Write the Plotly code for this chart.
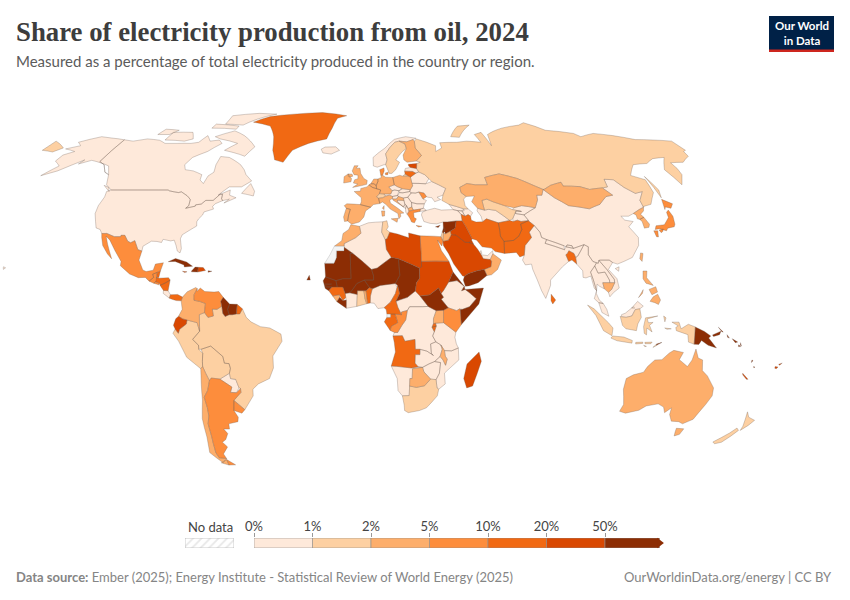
import plotly.graph_objects as go

bin_labels = ["0%", "1%", "2%", "5%", "10%", "20%", "50%"]
bin_colors = ["#fee9da", "#fdd0a2", "#fdae6b", "#fd8d3c", "#f16913", "#d94801", "#8c2d04"]
no_data_codes = ["ESH", "GNQ"]
bin_0_1 = ["CAN", "USA", "CHN", "IND", "DZA", "NGA", "ETH", "COD", "TZA", "ZMB", "ZWE", "MOZ", "NAM", "LSO", "SWZ",
           "CAF", "CIV", "ISL", "NOR", "LVA", "CZE", "SVK", "HUN", "AUT", "SVN", "BIH", "SRB", "MNE", "ALB", "BGR",
           "ROU", "UKR", "BLR", "TUR", "GEO", "ARM", "AZE", "TKM", "KGZ", "TJK", "NPL", "BTN", "VNM", "LAO", "THA",
           "MMR", "MYS", "BRN", "PRY", "CRI", "ARE", "QAT"]
bin_1_2 = ["RUS", "BRA", "PER", "BOL", "IDN", "NZL", "ZAF", "GHA", "SWE", "CHE", "UZB", "ISR", "TUN"]
bin_2_5 = ["COL", "CHL", "KAZ", "MNG", "AUS", "FRA", "ESP", "PRT", "GBR", "IRL", "DEU", "POL", "NLD", "BEL", "ITA",
           "FIN", "HRV", "MKD", "MAR", "OMN", "JOR", "UGA", "MWI", "BWA", "SLE", "TGO", "PRK", "KOR", "TWN", "PHL", "KHM"]
bin_5_10 = ["MEX", "GTM", "SLV", "VEN", "ARG", "URY", "DNK", "GRC", "MDA", "JPN", "EGY", "KEN", "COG"]
bin_10_20 = ["GRL", "BLZ", "HND", "NIC", "PAN", "GUF", "IRN", "AFG", "PAK", "BGD", "LKA", "LTU", "AGO", "CMR", "GAB",
             "GIN", "BEN", "RWA", "BDI"]
bin_20_50 = ["EST", "LBY", "SDN", "SAU", "IRQ", "KWT", "ECU", "DOM", "JAM", "MDG", "NCL", "FJI"]
bin_50_up = ["CUB", "HTI", "PRI", "GUY", "SUR", "MRT", "SEN", "GMB", "GNB", "MLI", "BFA", "NER", "TCD", "LBR", "SSD", "ERI",
             "DJI", "SOM", "YEM", "SYR", "LBN", "CYP", "PNG", "SLB", "VUT", "TLS", "CPV"]

# simplified country outlines, lon,lat, written by hand (no map file is available offline)
outlines = {
    "USA": ["-124.7,48.4 -123,49 -120,49 -115,49 -110,49 -105,49 -100,49 -95.2,49 -94.6,48.7 -92,48.3 -89.6,48 -88.4,48.3 -84.8,46.8 -83.5,46 -82.5,45.3 -82.1,43 -83.1,42 -79,42.8 -79,43.3 -76.5,43.6 -75,45 -71.5,45 -70.3,46.2 -69.2,47.4 -68,47.3 -67.8,45.7 -67,44.9 -70,43.7 -70.8,42.7 -70,41.7 -74,40.6 -74.2,39.5 -75.5,38 -76,36.9 -75.5,35.3 -77.9,33.9 -81,32 -81.4,30.5 -80.1,26.8 -80.4,25.2 -81.7,25.9 -82.7,28 -84,30 -85.5,29.7 -89,30.3 -89.4,29.1 -91.5,29.5 -94,29.6 -97.2,27.7 -97.2,25.9 -99.1,26.4 -101.4,29.8 -103,29 -104.5,29.6 -106.5,31.8 -108.2,31.8 -108.2,31.3 -111,31.3 -114.8,32.5 -117.1,32.5 -118.5,34 -120.6,34.6 -122,36.9 -124,40 -124.5,43 -124,46.3",
            "-141,69.6 -141,60.3 -137,59 -133,56 -130,55 -134,58.5 -140,59.8 -146,60.8 -151,59.3 -150,61 -154,58.8 -158,56.5 -164,54.6 -160,58.5 -165,60.5 -165,63 -161,64.5 -168,65.6 -162,67 -166,68.5 -157,71 -150,70.4",
            "-156,20 -155,19.6 -155.8,19 -156,19.7"],
    "CAN": ["-141,69.6 -135,69 -128,70 -120,69.4 -115,68 -108,68 -100,68 -96,68.5 -94,71.5 -90,69 -85,69.5 -82,68 -87,64.5 -93,62 -94.5,59 -92.5,57 -88,56.5 -82.5,55 -82,52.9 -79.5,51.5 -79,54.5 -77,56 -78,59 -78,62.4 -73,62 -70,61 -65,59 -62,57 -60,55 -56,52.5 -60,50.2 -66,50.2 -70,47 -65,49 -64.5,47 -61,46 -66,44 -64,45.5 -67,44.9 -67.8,45.7 -68,47.3 -69.2,47.4 -70.3,46.2 -71.5,45 -75,45 -76.5,43.6 -79,43.3 -79,42.8 -83.1,42 -82.1,43 -82.5,45.3 -83.5,46 -84.8,46.8 -88.4,48.3 -89.6,48 -92,48.3 -94.6,48.7 -95.2,49 -100,49 -105,49 -110,49 -115,49 -120,49 -123,49 -127,51 -130,55 -133,56 -137,59 -141,60.3",
            "-80,73.7 -72,71.5 -62,66.5 -65,62.5 -72,64 -78,65 -73,68 -85,70 -89,71",
            "-117,69.5 -105,69 -101,70 -105,73 -117,73",
            "-90,77 -78,76.5 -62,82.5 -75,83 -92,81.5",
            "-125,72 -118,72 -115,74 -124,74.5",
            "-96,75 -80,74.5 -80,76 -96,77",
            "-59,47.7 -53,46.7 -53,48.5 -56,51.5",
            "-128,50.8 -123.5,48.4 -125,50"],
    "GRL": ["-73,78 -60,76 -54,71 -51,65 -48,61 -43,60 -40,65 -32,68 -22,70 -20,75 -18,80 -12,81.5 -30,83.5 -50,82.5 -65,81"],
    "MEX": ["-117.1,32.5 -114.8,32.5 -111,31.3 -108.2,31.3 -108.2,31.8 -106.5,31.8 -104.5,29.6 -103,29 -101.4,29.8 -99.1,26.4 -97.2,25.9 -97.8,22.5 -95.5,18.8 -94,18.2 -91,18.7 -90.4,21 -87,21.5 -87.8,18.5 -89.1,17.9 -91,17.2 -90.4,16 -92.2,14.6 -94,16 -97,15.9 -101,17.3 -105.5,20.4 -105.5,22 -109,26 -112.5,30 -114.7,31.5 -113,28.5 -109.8,23 -112,24.8 -115,28 -116.5,31"],
    "GTM": ["-92.2,14.6 -90.4,16 -91,17.2 -89.1,17.9 -89.2,15.9 -88.2,15.7 -89.3,14.4 -90.1,13.8"],
    "BLZ": ["-89.1,17.9 -87.8,18.5 -88.2,16 -89.2,15.9"],
    "SLV": ["-90.1,13.8 -89.3,14.4 -87.7,13.8 -87.9,13.2"],
    "HND": ["-89.2,15.9 -88.2,15.7 -84,15.9 -83.2,15 -85,14 -87.3,13 -87.7,13.8 -89.3,14.4"],
    "NIC": ["-87.3,13 -85,14 -83.2,15 -83.7,11 -85.7,11.1"],
    "CRI": ["-85.7,11.1 -83.7,11 -82.6,9.5 -83,8.2 -85.7,10"],
    "PAN": ["-83,8.2 -82.6,9.5 -79.5,9.6 -77.4,8.6 -77.9,7.2 -80,7.3 -81.5,7.7"],
    "CUB": ["-85,21.9 -82,23.1 -77,21.8 -74.2,20.2 -77.7,19.9 -78,20.7 -82,22"],
    "HTI": ["-74.4,18.4 -73,19.9 -71.7,19.8 -71.7,18 -74.4,18.1"],
    "DOM": ["-71.7,19.8 -69.5,19.7 -68.4,18.6 -71.7,18"],
    "JAM": ["-78.3,18.3 -76.3,18.1 -77.3,17.8"],
    "PRI": ["-67.2,18.5 -65.6,18.3 -67.2,17.9"],
    "COL": ["-77.9,7.2 -77.4,8.6 -75.5,10.6 -72,12.2 -71.3,11.8 -72.5,9.5 -72.4,7.4 -70,7 -67.5,6.2 -67.8,2.8 -70,2 -69.9,-4.2 -70.9,-1 -75.2,0 -77,0.4 -78.8,1.4 -77.3,4"],
    "VEN": ["-71.3,11.8 -71.3,10.8 -70,12 -68,10.7 -64,10.5 -62,10.7 -60,8.5 -61,7 -60.5,5.2 -62.5,4 -64.5,4.1 -64,1.5 -66.3,1 -67.8,2.8 -67.5,6.2 -70,7 -72.4,7.4 -72.5,9.5"],
    "GUY": ["-60,8.5 -57.2,6 -58,4 -57.3,2 -59,1.3 -60,2.5 -60.5,5.2 -61,7"],
    "SUR": ["-57.2,6 -54,5.9 -54.2,2.3 -55.9,2 -57.3,2 -58,4"],
    "GUF": ["-54,5.9 -51.7,4.2 -52.8,2.3 -54.2,2.3"],
    "ECU": ["-78.8,1.4 -77,0.4 -75.2,0 -75.5,-1.5 -78.4,-3.5 -79,-5 -80.3,-3.4 -81,-2 -80,0.5"],
    "PER": ["-75.2,0 -70.9,-1 -69.9,-4.2 -73,-7.3 -70.6,-9.5 -70.6,-11 -69,-12.5 -69.4,-15.5 -69.5,-17.5 -70.4,-18.3 -76,-14 -79,-8 -81.3,-5 -80.3,-3.4 -79,-5 -78.4,-3.5 -75.5,-1.5"],
    "BOL": ["-69.6,-11 -65.4,-9.8 -60.5,-13.7 -60,-16.2 -58,-16.4 -57.6,-18.2 -58.2,-20 -62.6,-22.2 -66.3,-21.8 -67.2,-22.8 -68.5,-20 -69.5,-17.5 -69.4,-15.5 -69,-12.5"],
    "PRY": ["-58.2,-20 -57.9,-22 -55.7,-22.3 -54.6,-25.5 -56,-27.3 -58.6,-27.2 -57.7,-25.2 -62.6,-22.2"],
    "URY": ["-57.6,-30.2 -53.4,-33.7 -55,-35 -58.4,-34"],
    "ARG": ["-66.3,-21.8 -62.6,-22.2 -57.7,-25.2 -58.6,-27.2 -56,-27.3 -54,-25.7 -54,-27.2 -57.6,-30.2 -58.4,-34 -57,-36.5 -57.6,-38.2 -62,-39 -62.3,-41 -65,-41 -63.7,-42.7 -65.5,-45 -67.5,-46 -65.8,-47.8 -69,-50.5 -68.4,-52.3 -71.9,-52 -72.5,-50 -72,-46 -71.7,-44 -71.5,-39 -70.2,-36 -70,-33 -70.5,-29 -68.5,-26.5 -67.2,-22.8",
            "-68.6,-52.7 -65.2,-54.8 -68.6,-54.9"],
    "CHL": ["-69.5,-17.5 -68.5,-20 -67.2,-22.8 -68.5,-26.5 -70.5,-29 -70,-33 -70.2,-36 -71.5,-39 -71.7,-44 -72,-46 -72.5,-50 -71.9,-52 -68.4,-52.3 -71,-54 -75.5,-50 -74,-44 -73.5,-37 -71.5,-30 -70.4,-18.3",
            "-68.6,-52.7 -68.6,-54.9 -72,-54"],
    "BRA": ["-51.7,4.2 -50,1 -48,-0.7 -44,-2.5 -40,-3 -35.3,-5.3 -34.9,-8 -39,-13.5 -39,-18 -41,-22 -46,-24 -48.6,-26 -48.8,-28.5 -53.4,-33.7 -57.6,-30.2 -54,-27.2 -54,-25.7 -54.6,-25.5 -55.7,-22.3 -57.9,-22 -58.2,-20 -57.6,-18.2 -58,-16.4 -60,-16.2 -60.5,-13.7 -65.4,-9.8 -69.6,-11 -70.6,-11 -70.6,-9.5 -73,-7.3 -69.9,-4.2 -70,2 -67.8,2.8 -66.3,1 -64,1.5 -64.5,4.1 -62.5,4 -60.5,5.2 -60,2.5 -59,1.3 -57.3,2 -55.9,2 -54.2,2.3 -52.8,2.3"],
    "ISL": ["-24,65.5 -22,66.4 -16,66.5 -13.6,65 -18,63.4 -22.7,63.9"],
    "IRL": ["-10,51.7 -10,54.2 -8,55.3 -7,54 -6.2,53.5 -6.4,52.2"],
    "GBR": ["-5.5,50 -1,50.7 1.4,51.2 1.7,52.7 0,53.5 -1.6,55.5 -2,57.6 -4,57.6 -3,58.6 -5,58.6 -6,56.5 -5,55 -3,54.8 -3,53.4 -4.6,53 -5.2,51.7 -3,51.3",
            "-8,54.4 -8,55.3 -6,55.2 -5.6,54.4 -7,54"],
    "PRT": ["-8.8,37 -7.4,37.2 -7,39.5 -6.3,41.6 -8.2,42 -9.3,38.7"],
    "ESP": ["-8.2,42 -6.3,41.6 -7,39.5 -7.4,37.2 -5.5,36 -2,36.8 0,38.7 0.8,41 3.2,42.4 -1.7,43.4 -8,43.7 -9.2,43"],
    "FRA": ["-1.7,43.4 3.2,42.4 4.5,43.4 7.5,43.8 7,45.8 6,46.3 7.5,47.6 8.2,49 6.2,49.5 4.2,50 2.5,51 1.5,50.2 -1.5,49.6 -1.6,48.6 -4.7,48.4 -1.2,46 -1.2,44.5",
            "8.6,42 9.5,43 9.4,41.5"],
    "BEL": ["2.5,51 4.2,50 6.2,49.5 6.1,50.7 5,51.4 3.4,51.4"],
    "NLD": ["3.4,51.4 5,51.4 6.1,50.7 7,52.3 7.1,53.3 5,53.3"],
    "DEU": ["7.1,53.3 7,52.3 6.1,50.7 6.2,49.5 8.2,49 7.5,47.6 9.6,47.5 13,47.5 13.7,48.7 12.2,50.2 15,51 14.6,53.9 11,54 9.5,54.8 8.6,54.9 8.8,53.9"],
    "CHE": ["6,46.3 7.5,47.6 9.6,47.5 10.4,46.6 9,46 7,45.8"],
    "ITA": ["7,45.8 9,46 10.4,46.6 12.2,47 13.7,46.5 13.7,45.7 12.3,45.2 12.5,44 16,41.9 18.5,40.2 16.8,40 17,39 16,38 15.7,40 12.3,41.7 10.3,43.5 8.8,44.4 7.5,43.8",
            "12.5,38 15.6,38.2 15.1,36.7", "8.2,41 9.7,41 9.5,39.1 8.4,39"],
    "AUT": ["9.6,47.5 13,47.5 13.7,48.7 15,49 17,48.7 16.2,46.9 13.7,46.5 12.2,47 10.4,46.6"],
    "CZE": ["12.2,50.2 13.7,48.7 15,49 17,48.7 18.8,49.5 16.5,50.3 15,51"],
    "POL": ["14.6,53.9 15,51 16.5,50.3 18.8,49.5 22.6,49.1 24,50.6 23.7,52.6 23.5,54 22.8,54.4 19.7,54.4 18.3,54.8"],
    "SVK": ["17,48.7 18.8,49.5 22.6,49.1 22.2,48.4 18.8,47.9 17.2,48"],
    "HUN": ["16.2,46.9 17.2,48 18.8,47.9 22.2,48.4 22.9,47.9 21,46.2 18.8,45.9 16.5,46.5"],
    "SVN": ["13.7,46.5 16.2,46.9 16.5,46.5 15.5,45.5 13.7,45.5"],
    "HRV": ["13.7,45.5 15.5,45.5 16.5,46.5 18.8,45.9 19,45 16,45.1 15.8,44.5 18.5,42.5 15,44.5 14,45"],
    "BIH": ["16,45.1 19,45 19.3,43.5 18.5,42.5 15.8,44.5"],
    "SRB": ["18.8,45.9 21,46.2 22.5,44.2 22.4,42.5 20.6,41.9 20,43 19.3,43.5 19,45"],
    "MNE": ["18.5,42.5 19.3,43.5 20,43 19.4,41.9"],
    "ALB": ["19.4,41.9 20,43 20.6,41.9 20.9,40.9 20,39.7 19.4,40.5"],
    "MKD": ["20.6,41.9 22.4,42.5 23,41.3 20.9,40.9"],
    "GRC": ["20,39.7 20.9,40.9 23,41.3 26.3,41.7 26,40.8 23,40.3 23,38.5 24,38 23,36.5 21.7,36.8 21,38.3",
            "23.6,35.5 26.2,35.2 24.7,34.9"],
    "BGR": ["22.4,42.5 22.5,44.2 25,43.7 28.5,43.7 27.7,42 26.3,41.7 23,41.3"],
    "ROU": ["22.9,47.9 24.9,47.8 26.6,48.2 28.2,45.5 29.7,45 28.5,43.7 25,43.7 22.5,44.2 21,46.2"],
    "MDA": ["26.6,48.2 29,47.8 30,46.4 28.2,45.5"],
    "UKR": ["22.2,48.4 22.6,49.1 24,50.6 23.7,51.6 30.6,51.4 33.8,52.3 40,49.6 38,47 35,46.2 36.5,45.3 33.5,44.5 32.5,46 30.7,46.2 30,46.4 29,47.8 26.6,48.2 24.9,47.8 22.9,47.9"],
    "BLR": ["23.7,51.6 23.7,52.6 23.5,54 26.6,55.6 28.2,56.1 31,55 32.7,53.4 30.6,51.4"],
    "LTU": ["21,55.3 21,56.4 25,56.3 26.6,55.6 23.5,54 22.8,54.4"],
    "LVA": ["21,56.4 21.6,57.5 24.4,57.9 27.4,57.5 28.2,56.1 26.6,55.6 25,56.3"],
    "EST": ["23.5,59.2 28,59.5 27.4,57.5 24.4,57.9 23.5,58.5"],
    "DNK": ["8.6,54.9 9.5,54.8 10.5,56.5 10.5,57.7 8.2,57", "11,55.7 12.5,56 12.2,55 11,55"],
    "NOR": ["5,58.5 7,58 10.6,59 11.5,59 12.5,61 12,63.5 14.5,66 18,68.5 20.6,69 25,68.7 29,69.7 31,70.3 25,71 18,69.8 12,66 5,62"],
    "SWE": ["11.5,59 13,55.5 14.3,55.5 16.5,57 19,60 17.2,61 21.5,64.5 24,65.8 23.7,67.8 20.6,69 18,68.5 14.5,66 12,63.5 12.5,61"],
    "FIN": ["24,65.8 21.5,63 21.5,61 23,60 28,60.5 31.5,62.8 29,66 29.5,69 29,69.7 25,68.7 20.6,69 23.7,67.8"],
    "RUS": ["28,60.5 31.5,62.8 29,66 29.5,69 31,70 41,67 40,64.5 44,66 44,68.3 54,68.5 60,69 68,68.5 67,72 72,73 73,67 75,72 80,73.5 87,75 100,76.5 105,77.7 113,74 128,72.5 130,71 140,72.5 150,71.5 160,69.7 170,69.5 180,69 180,65 178,64.5 177,62.5 170,60 163,59.8 163,57.5 162,55 157,51 155.7,57 163,62 156,61.5 150,59.5 142,59 135.5,54.7 141,53 140,48 135,43.5 131,42.7 130.7,42.4 131,45 135,48.4 131,47.7 127.5,50 125,53 120.5,53.2 119.5,50.2 116.7,49.8 110,49.2 106,50.3 98,50.5 98,52 92,50.8 87.8,49.2 87.3,49.2 83,51 77,53.5 69,55.3 61,53.9 61,51 55,51 51,51.5 47,50 47,48 49,46.5 47.5,45.5 47.5,43 48.5,41.8 46.5,41.8 40,43.5 37,45 38,47 40,49.6 33.8,52.3 32.7,53.4 31,55 28.2,56.1 27.4,57.5 28,59.5 30,60",
            "52,71 57,70.7 68,76.5 60,76", "142,54.3 143.5,49 142,46 142,50", "-180,69 -170,66 -173,64.3 -180,65",
            "19.7,54.4 22.8,54.4 21,55.3"],
    "TUR": ["26.5,39.5 27.3,37 30,36.3 33,36.1 36,36.8 38,36.8 42,37.2 44.8,37.2 44.8,39.7 43.5,41.1 41.5,41.5 36,41.3 33,42 29,41.2 27,40.5",
            "26.3,41.7 28,42 29,41.2 26,40.8"],
    "GEO": ["40,43.5 46.5,41.8 46.5,41 43.5,41.1 41.5,41.5"],
    "ARM": ["43.5,41.1 45.5,41 46.5,39 44.8,39.7"],
    "AZE": ["45.5,41 46.5,41.8 48.5,41.8 50.3,40.3 49,39 48,39.6 46.5,39"],
    "SYR": ["36,36.8 38,36.8 42,37.2 41,34.5 38.8,33.4 36.4,32.4 35.8,34.6"],
    "LBN": ["35.1,33.1 35.6,32.6 36.4,33.8 36.4,34.6 35.8,34.6"],
    "ISR": ["34.3,31.3 35,29.5 35.6,32.6 35.1,33.1"],
    "JOR": ["35,29.5 37.5,30 39,32 38.8,33.4 36.4,32.4 35.6,32.6"],
    "IRQ": ["38.8,33.4 41,34.5 42,37.2 44.8,37.2 46,35 48,30.5 47.7,30 46.5,29.1 44.7,29.2 41,31.9 39,32"],
    "KWT": ["46.5,29.1 47.7,30 48,29.4 48.4,28.5"],
    "SAU": ["35,29.5 37.5,30 39,32 41,31.9 44.7,29.2 46.5,29.1 48.4,28.5 50,26.5 51.2,24.5 52,23 55,22.7 55.5,22 55,20 52,19 49,18.5 45,17.4 43.3,16.4 42.5,16.5 39,21 37,25 35,28"],
    "YEM": ["43.3,16.4 45,17.4 49,18.5 52,19 53,16.7 49,14 45,12.8 43.5,12.7 42.7,15"],
    "OMN": ["55,20 55.5,22 55,22.7 56,24.3 56.4,24.9 59.8,22.5 57.8,19 55,17 53,16.7 52,19"],
    "ARE": ["51.2,24.5 54,24.2 56.4,26 56.4,24.9 56,24.3 55,22.7 52,23"],
    "QAT": ["50.8,24.8 51.6,25 51.3,26.1 50.8,25.6"],
    "IRN": ["44.8,39.7 46.5,39 48,39.6 49,39 49,37.5 51,36.8 54,36.9 56,38 61,36.5 61,34 60.8,31.5 62,29.5 61.5,25 57.5,25.7 56,27 52,27.5 50,30 48,30.5 46,35 44.8,37.2"],
    "TKM": ["53,42 52.5,41 53.8,39 54,36.9 56,38 61,36.5 66.5,37.4 61.2,41.2 58,41.6 56,41.3"],
    "UZB": ["56,45 56,41.3 58,41.6 61.2,41.2 66.5,37.4 68,38 70.5,41 73,40.8 69,41.5 66,43 61,44.5 58.5,45.5"],
    "KAZ": ["47,50 51,51.5 55,51 61,51 61,53.9 69,55.3 77,53.5 83,51 87.3,49.2 85.5,47 83,47 82.5,45.2 80,42.2 74,43 70,42.2 66,43 61,44.5 58.5,45.5 56,45 56,41.3 53,42 51,44.5 53,46.7 49,46.5 47,48"],
    "KGZ": ["70,42.2 74,43 80,42.2 73.7,39.5 70,40 70.5,41 73,40.8 69,41.5"],
    "TJK": ["68,38 70.5,41 70,40 73.7,39.5 75,37.4 71.5,37 70,37.5 68,37"],
    "AFG": ["61,34 61,36.5 66.5,37.4 68,37 70,37.5 71.5,37 74.9,37.3 71,36 71,34 69,31.5 66.3,29.9 62,29.5 60.8,31.5"],
    "PAK": ["62,29.5 66.3,29.9 69,31.5 71,34 71,36 74.9,37.3 77,35.5 74,33 74.5,31 71,28 70,24.3 68,23.7 66.7,25.4 61.5,25"],
    "IND": ["74,33 77,35.5 78.8,33 79,31 81,30.2 80,28.8 88,26.4 88.9,27.5 92,26.9 97,28.3 95,26 93.3,24 92.3,23.5 91.8,25 89.8,26 89,25 88.2,24.5 89,22 86,20 80.2,15 80,13 77.6,8.1 76,11 73,19 72.7,21 70,20.7 69,22.5 70,24.3 71,28 74.5,31"],
    "NPL": ["80,28.8 81,30.2 88.1,27.9 88,26.4"],
    "BTN": ["88.9,27.5 92,26.9 91.6,27.9 89.5,28.2"],
    "BGD": ["88.2,24.5 89,25 89.8,26 91.8,25 92.3,23.5 92.3,21 90.5,22.5 89,22"],
    "LKA": ["80,9.7 81.8,7.5 80.5,6 79.8,7.2"],
    "CHN": ["73.7,39.5 80,42.2 82.5,45.2 83,47 85.5,47 87.3,49.2 91,46 96,43 105,41.8 111,43.5 116,46.5 119.5,47 116.7,49.8 119.5,50.2 120.5,53.2 125,53 127.5,50 131,47.7 135,48.4 131,45 130.7,42.4 128,41.5 124.3,40 121.5,39 118,39 119,37.5 122.5,37 119.5,35 122,31 121,28 117,23.5 113,22 110,21 108,21.6 106.7,22.5 103,22.5 102.2,22.4 101.7,21.3 101,21.5 99.5,22 98,24.5 98.7,27.5 97,28.3 92,26.9 91.6,27.9 89.5,28.2 88.9,27.5 88.1,27.9 81,30.2 79,31 78.8,33 77,35.5 74.9,37.3 75,37.4",
            "108.7,19.3 110.5,20 110,18.3"],
    "MNG": ["87.8,49.2 92,50.8 98,52 98,50.5 106,50.3 110,49.2 116.7,49.8 119.5,47 116,46.5 111,43.5 105,41.8 96,43 91,46 87.3,49.2"],
    "PRK": ["124.3,40 128,41.5 130.7,42.4 129.7,41 127.5,39.7 128.3,38.6 126,37.8 125,38 125.3,39.5"],
    "KOR": ["126,37.8 128.3,38.6 129.4,36 128.5,34.8 126.3,34.5 126.6,37"],
    "JPN": ["130.9,34 132,35.4 136,35.8 137.3,36.8 139.5,38.5 140,40.5 141.4,41.3 141.9,39 140.9,36 140,35 136.8,34.5 135.7,33.5 133,34.3",
            "140,41.5 141.6,45.4 145.3,43.7 143.2,42 141,42.5", "130,33.5 131.8,33.5 131,31.2 130.2,31.3",
            "132.5,33.8 134.6,34.2 134,33.3 133,32.8"],
    "TWN": ["120.1,23 121,25.2 122,25 120.9,22"],
    "MMR": ["92.3,21 92.3,23.5 93.3,24 95,26 97,28.3 98.7,27.5 98,24.5 99.5,22 101,21.5 100,20.3 97.8,18 98.6,15 99.5,11 98.6,12 97.7,16.5 95.5,15.8 94.3,16 94.5,18.5"],
    "THA": ["97.8,18 100,20.3 101,17.6 104,18 105.5,15 105.5,14 102.5,14 102.9,11.7 100.9,12.7 100,13.5 99.3,10 100.4,7.5 102,6.2 100.1,6.5 98.3,8 99.5,11 98.6,15"],
    "LAO": ["101,21.5 101.7,21.3 102.2,22.4 105,19 107.6,15.3 107.6,14 105.5,14 105.5,15 104,18 101,17.6 100,20.3"],
    "VNM": ["102.2,22.4 103,22.5 106.7,22.5 108,21.6 105.7,19 108.8,15.5 109.3,12 106.7,10.3 105,8.7 104.5,10.4 106,11.5 107.6,14 107.6,15.3 105,19"],
    "KHM": ["102.9,11.7 102.5,14 105.5,14 107.6,14 106,11.5 104.5,10.4"],
    "MYS": ["100.1,6.5 102,6.2 103.4,4 104.2,1.4 101.3,2.8", "109.6,2 111.3,2.6 114,4.5 116.7,7 119,5.2 117.5,4.2 115.5,3.9 114,1.5 111.5,1 109.6,1.2"],
    "BRN": ["114,4.5 115,5 115.2,4.4"],
    "IDN": ["95.3,5.6 98,4.2 104,-1 106,-3 105.7,-5.9 102,-4 98.7,1.7", "105.3,-6.8 106,-6 110.8,-6.4 114.5,-7.7 114.4,-8.7 108,-7.8",
            "109,1.4 109.6,1.2 111.5,1 114,1.5 115.5,3.9 117.5,4.2 118,1 116.5,-1.5 116,-4 111.5,-3.3 110,-2",
            "119.8,0.8 125,1.5 120.5,0.4 121,-1 123,-0.9 121.5,-2 122.7,-4.5 120.4,-3 120.4,-5.6 119.4,-5 119,-2.5",
            "131,-0.8 134,-0.8 135,-3.3 138,-1.6 141,-2.6 141,-9.1 138.5,-8.3 138,-5.5 133,-4 132.7,-2.8 133.7,-2.2",
            "116,-8.4 119,-8.3 119,-8.8 116,-9", "119.9,-8.4 123,-8.3 122.5,-8.9 120,-8.9", "123.5,-10.3 125,-9 125,-9.6",
            "119.5,-9.5 120.7,-9.9 120,-10", "127.5,1.5 128.5,0.8 128,-0.7", "128,-3 130.8,-3.3 129,-3.5"],
    "TLS": ["125,-9 127.2,-8.4 125,-9.5"],
    "PHL": ["120.5,18.4 122.2,18.4 121.6,15.9 124,13 121,13.8 120,15.5", "122,7 123.5,8.7 125.5,9.7 126.5,7.5 125.5,5.8 124,6.5",
            "122,11.5 125,12.5 125.5,10.5 123,9.5", "117.2,8.4 119.5,11.4 119,10"],
    "PNG": ["141,-2.6 145,-4.3 147.8,-6 147,-6.8 150.7,-10.5 147,-9.5 144,-7.7 143,-9.2 141,-9.1",
            "148.5,-5.6 152,-4.2 151.5,-5.5 149,-6.2", "154.7,-5.5 155.8,-6.8 155,-6.5", "150.8,-2.7 153,-4.5 152.5,-4.5"],
    "SLB": ["157,-7 159.5,-8.3 158.5,-8.5", "160,-9.3 161,-10 160,-10", "160.7,-8.5 161.3,-9.8 160.8,-9.5"],
    "VUT": ["166.7,-15 167.2,-15.3 166.7,-16", "168,-17.5 168.6,-17.7 168.3,-18"],
    "NCL": ["164,-20 167,-22.3 166.3,-22.3 164.2,-20.6"],
    "FJI": ["177.3,-17.5 178.6,-17.7 178,-18.3 177.3,-18.1", "178.6,-16.6 180,-16.2 179,-17"],
    "AUS": ["113.7,-26 114,-22 116.8,-20.6 121,-19.6 122.3,-17.5 125,-15 128,-14.9 130.8,-12.4 132.6,-11.4 136.8,-12.2 135.5,-14.9 139.5,-17.5 141,-15 142,-10.9 143.5,-14.3 145.5,-15 146.3,-19 149,-21 153,-25.5 153.6,-28.5 150.8,-35 150,-37.3 146.3,-39 144,-38.2 140.5,-38 138.2,-35.5 137.7,-33 135.5,-34.8 134,-32.7 131,-31.5 126,-32.3 123.5,-33.9 118,-35 115,-34.3 115.7,-31.7",
            "144.7,-40.7 148.3,-40.9 148,-43 146,-43.6 145.3,-42.3"],
    "NZL": ["172.7,-34.5 174.7,-36.5 178.3,-37.7 177,-39.6 175,-41.5 174.8,-39.9", "172.7,-40.6 174.2,-41.5 172.7,-43.7 170.7,-46 168,-46.6 166.5,-45.9 171,-42.5"],
    "MAR": ["-5.9,35.8 -2,35.2 -1.3,32.6 -3.7,30.9 -8.7,28.7 -8.7,27.7 -13,27.7 -9.8,29.8 -9.3,32.5 -6.8,34"],
    "ESH": ["-13,27.7 -8.7,27.7 -8.7,26 -12,26 -12,23.4 -13,21.3 -17,21.3 -14.8,24.5"],
    "DZA": ["-2,35.2 2,36.5 8.6,36.9 8,33 9.5,30.2 9.9,26.5 12,23.5 5.8,19.5 3.3,19 -4.8,25 -8.7,27.3 -8.7,28.7 -3.7,30.9 -1.3,32.6"],
    "TUN": ["8.6,36.9 10.5,37.3 11,35 10.2,33.9 11.6,33 10.3,30.5 9.5,30.2 8,33"],
    "LBY": ["11.6,33 15,32.3 20,30.9 20,32.7 25,31.6 25,20 24,19.5 15,23 12,23.5 9.9,26.5 9.5,30.2 10.3,30.5"],
    "EGY": ["25,31.6 31,31.5 34.3,31.3 35,29.5 34.3,27.8 32.6,30 34,26 37,22 25,22"],
    "MRT": ["-17,21.3 -13,21.3 -12,23.4 -12,26 -8.7,26 -8.7,27.3 -4.8,25 -6,25 -5.5,15.5 -9,15.5 -12,14.8 -16.5,16.2"],
    "SEN": ["-16.5,16.2 -12,14.8 -11.4,12.4 -16.7,12.4 -17.5,14.7"],
    "GMB": ["-16.8,13.6 -13.8,13.5 -16.7,13.1"],
    "GNB": ["-16.7,12.4 -13.7,12.4 -15,11 -16.5,11.8"],
    "GIN": ["-13.7,12.4 -11.4,12.4 -9,12.4 -8,10 -7.7,8.4 -9,7.3 -10.5,9.5 -13.3,9 -15,11"],
    "SLE": ["-13.3,9 -10.5,9.5 -10.3,8.5 -11.5,6.9"],
    "LBR": ["-11.5,6.9 -10.3,8.5 -9,7.3 -7.5,7.5 -7.5,4.4"],
    "CIV": ["-7.5,4.4 -7.5,7.5 -7.7,8.4 -8,10 -6,10.2 -2.8,9.6 -3,5.1"],
    "GHA": ["-3,5.1 -2.8,9.6 -2.8,11 0,11 0.5,8 1.2,6.1"],
    "TGO": ["1.2,6.1 0.5,8 0,11 0.9,11 1.6,6.2"],
    "BEN": ["1.6,6.2 0.9,11 2.4,12.2 3.6,11.7 2.8,9 2.7,6.4"],
    "BFA": ["-6,10.2 -5,11.2 -3,13.7 0.2,15 2.4,12.2 0.9,11 0,11 -2.8,11 -2.8,9.6"],
    "MLI": ["-12,14.8 -9,15.5 -5.5,15.5 -6,25 -4.8,25 3.3,19 4.2,16.5 4.2,15 0.2,15 -3,13.7 -5,11.2 -6,10.2 -8,10 -9,12.4 -11.4,12.4"],
    "NER": ["4.2,15 4.2,16.5 3.3,19 5.8,19.5 12,23.5 15,23 15.5,16.8 13.5,13.7 7,13 3.6,11.7 2.4,12.2 0.2,15"],
    "NGA": ["2.7,6.4 2.8,9 3.6,11.7 7,13 13.5,13.7 14.2,12.2 13.5,10 11.3,6.7 8.6,4.6 6,4.3 4.4,6.3"],
    "CMR": ["8.6,4.6 11.3,6.7 13.5,10 14.2,12.2 14.5,13 15.3,10 13.7,7 14.5,4.7 16,2 13.3,2.2 9.8,2.2 9.5,3.9"],
    "TCD": ["15,23 24,19.5 24,15.7 22.5,14 22,10.9 18.6,8.5 15.4,7.6 13.7,7 15.3,10 14.5,13 13.5,13.7 15.5,16.8"],
    "CAF": ["14.5,4.7 13.7,7 15.4,7.6 18.6,8.5 22,10.9 24,9 27.4,5.1 25,5 19.5,5 18.5,3.6 16,3 16,2"],
    "SDN": ["24,19.5 25,20 25,22 37,22 38.5,18 36.4,14.3 34,11 33,10 32,12 28,9.4 24,9 22,10.9 22.5,14 24,15.7"],
    "SSD": ["24,9 28,9.4 32,12 33,10 34,8.5 33,7.8 35.9,4.6 33.9,3.7 30.8,3.5 27.4,5.1"],
    "ERI": ["36.4,14.3 38.5,18 43,12.7 40,14.8"],
    "DJI": ["43,12.7 41.8,11 43.3,11.5"],
    "ETH": ["36.4,14.3 40,14.8 43,12.7 41.8,11 43.3,11.5 44.9,10.4 48,8 45,5 42,4 40.8,4.2 39.5,3.5 35.9,4.6 33,7.8 34,8.5 33,10 34,11"],
    "SOM": ["43.3,11.5 51.2,12 49,6 41.5,-1.7 41,3.9 42,4 45,5 48,8 44.9,10.4"],
    "KEN": ["33.9,3.7 35.9,4.6 39.5,3.5 40.8,4.2 41,3.9 41.5,-1.7 39.2,-4.6 33.9,-1"],
    "UGA": ["30.8,3.5 33.9,3.7 33.9,-1 30.5,-1.2 29.6,-1.4 29.6,0.5"],
    "RWA": ["29,-2.7 29.6,-1.4 30.5,-1.2 30.8,-2.3"],
    "BDI": ["29,-2.7 30.8,-2.3 30,-4.4"],
    "TZA": ["30.5,-1.2 33.9,-1 39.2,-4.6 38.8,-6.5 39.5,-9 40.4,-10.5 37.5,-11.6 34.5,-11.5 32.9,-9.4 30.7,-8.2 29.3,-6 30,-4.4 30.8,-2.3"],
    "COD": ["12.4,-6 13,-4.7 14.4,-4.7 16.2,-2 17.8,0 18.5,3.6 19.5,5 25,5 27.4,5.1 30.8,3.5 29.6,0.5 29.6,-1.4 29,-2.7 30,-4.4 29.3,-6 30.7,-8.2 28.5,-9 28.9,-12.5 29.8,-13.3 27,-11.7 24,-11 22,-11 21.8,-7.3 17.5,-8 16.4,-5.9"],
    "COG": ["11.2,-3.9 13,-4.7 14.4,-4.7 16.2,-2 17.8,0 18.5,3.6 16,3 16,2 13.3,2.2 14.4,-1 11.6,-2.4"],
    "GAB": ["8.7,-0.7 9.8,1 11.3,1 11.3,2.2 13.3,2.2 14.4,-1 11.6,-2.4 11.2,-3.9"],
    "GNQ": ["9.8,1 9.8,2.2 11.3,2.2 11.3,1"],
    "AGO": ["11.8,-17.3 13.5,-12 13,-8.5 12.4,-6 16.4,-5.9 17.5,-8 21.8,-7.3 22,-11 24,-11 24,-13 22,-13 22,-16.2 23.4,-17.6 20.5,-18 14,-17.4"],
    "ZMB": ["22,-13 24,-13 24,-11 27,-11.7 29.8,-13.3 28.9,-12.5 28.5,-9 30.7,-8.2 32.9,-9.4 33.5,-11 32.7,-13.7 30.4,-15.6 28,-16.5 25.3,-17.8 23.4,-17.6 22,-16.2"],
    "MWI": ["32.9,-9.4 34.5,-11.5 34.9,-13.6 35.8,-14.7 35.2,-17 34,-15 32.7,-13.7 33.5,-11"],
    "MOZ": ["40.4,-10.5 40.8,-15 36,-19 34.9,-20 35.5,-24 32.8,-26 32,-25.5 31.4,-22.4 32.7,-20 33,-16 30.4,-15.6 32.7,-13.7 34,-15 35.2,-17 35.8,-14.7 34.9,-13.6 34.5,-11.5 37.5,-11.6"],
    "ZWE": ["25.3,-17.8 28,-16.5 30.4,-15.6 33,-16 32.7,-20 31.4,-22.4 29,-22.2 26,-19.5"],
    "BWA": ["21,-18.3 25.3,-17.8 26,-19.5 29,-22.2 26.5,-24.7 23,-25.3 20,-24.8 20,-22 21,-22"],
    "NAM": ["11.8,-17.3 14,-17.4 20.5,-18 23.4,-17.6 25.3,-17.8 21,-18.3 21,-22 20,-22 20,-28.4 17,-28.5 15,-26.5 14.5,-22"],
    "ZAF": ["17,-28.5 20,-28.4 20,-24.8 23,-25.3 26.5,-24.7 29,-22.2 31.4,-22.4 32,-25.5 32.8,-26 32.4,-28.5 28,-33 25,-34 20,-34.8 18.3,-34 18,-32"],
    "LSO": ["27,-29.6 28.5,-28.6 29.4,-29.6 28,-30.6"],
    "SWZ": ["31,-26 32,-26 32,-27.3 31,-27.3"],
    "MDG": ["49.3,-12 50.5,-15.5 47.5,-24.8 45,-25.5 43.4,-22 44.4,-16.5"],
    "CPV": ["-24.5,15 -23,15 -23.5,16.8"],
    "CYP": ["32.3,35 34.5,35.6 33.5,34.7"],
}


def ring_coords(text):
    ring = [[float(v) for v in pair.split(",")] for pair in text.split()]
    # d3 wants outer rings clockwise, otherwise it fills the rest of the globe
    area = sum(a[0] * b[1] - b[0] * a[1] for a, b in zip(ring, ring[1:] + ring[:1]))
    if area > 0:
        ring.reverse()
    return ring + [ring[0]]


def country_group_trace(codes, color, line_color):
    # one filled scattergeo per bin, rings split by None. A choropleth would ask the CDN for topojson
    lons, lats = [], []
    for code in codes:
        for text in outlines[code]:
            for lon, lat in ring_coords(text):
                lons.append(lon)
                lats.append(lat)
            lons.append(None)
            lats.append(None)
    return go.Scattergeo(
        lon=lons, lat=lats, mode="lines", fill="toself", fillcolor=color,
        line=dict(color=line_color, width=0.5), showlegend=False, hoverinfo="skip",
    )


W, H = 850, 600
n_bins = len(bin_colors)
all_bins = [bin_0_1, bin_1_2, bin_2_5, bin_5_10, bin_10_20, bin_20_50, bin_50_up]
last_bar_length = 0.93  # the open-ended bin stops short, its arrow takes up the rest

fig = go.Figure()

for codes, color in zip(all_bins, bin_colors):
    fig.add_trace(country_group_trace(codes, color, "rgba(110,95,85,0.6)"))
fig.add_trace(country_group_trace(no_data_codes, "#f4f4f4", "rgba(150,150,150,0.6)"))

# colour legend as a stacked bar on its own small axis
for index, color in enumerate(bin_colors):
    length = last_bar_length if index == n_bins - 1 else 1
    fig.add_trace(go.Bar(
        x=[length], y=[0], base=[index], orientation="h", width=1,
        marker=dict(color=color, line=dict(color="#8f8f8f", width=0.6)),
        xaxis="x", yaxis="y", showlegend=False, hoverinfo="skip",
    ))
fig.add_trace(go.Scatter(
    x=[n_bins - 1 + last_bar_length], y=[0], mode="markers",
    marker=dict(symbol="triangle-right", size=9, color=bin_colors[-1]),
    cliponaxis=False, xaxis="x", yaxis="y", showlegend=False, hoverinfo="skip",
))
fig.add_trace(go.Bar(
    x=[1], y=[0], orientation="h", width=1,
    marker=dict(color="white", line=dict(color="#bdbdbd", width=0.8),
                pattern=dict(shape="/", fgcolor="#cfcfcf", bgcolor="white", size=6, solidity=0.3)),
    xaxis="x2", yaxis="y2", showlegend=False, hoverinfo="skip",
))

fig.update_layout(
    width=W,
    height=H,
    margin=dict(l=0, r=0, t=0, b=0),
    paper_bgcolor="white",
    plot_bgcolor="white",
    showlegend=False,
    barmode="overlay",
    font=dict(family="Lato", color="#5b5b5b"),
    geo=dict(
        domain=dict(x=[0, 1], y=[1 - 550 / H, 1 - 90 / H]),
        projection=dict(type="robinson", rotation=dict(lon=0), scale=0.996),
        center=dict(lon=26, lat=0),
        lonaxis=dict(range=[-180, 180]),
        lataxis=dict(range=[-90, 90]),
        showland=False, showocean=False, showlakes=False, showrivers=False,
        showcountries=False, showcoastlines=False, showframe=False,
        bgcolor="rgba(0,0,0,0)",
    ),
    xaxis=dict(
        domain=[254 / W, 663.5 / W], range=[0, n_bins], side="top", anchor="y", automargin=False,
        tickmode="array", tickvals=list(range(n_bins)), ticktext=bin_labels,
        ticks="outside", ticklen=4, tickcolor="#999999", ticklabelstandoff=-3,
        tickfont=dict(family="Lato", size=13, color="#444444"),
        showgrid=False, zeroline=False, showline=False, fixedrange=True,
    ),
    yaxis=dict(domain=[1 - 548 / H, 1 - 538 / H], range=[-0.5, 0.5], visible=False, fixedrange=True, automargin=False),
    xaxis2=dict(domain=[185 / W, 234 / W], range=[0, 1], visible=False, anchor="y2", fixedrange=True, automargin=False),
    yaxis2=dict(domain=[1 - 548 / H, 1 - 538 / H], range=[-0.5, 0.5], visible=False, anchor="x2", fixedrange=True, automargin=False),
)


def text_at(px, py, text, size, color, family="Lato", xanchor="left"):
    fig.add_annotation(
        x=px / W, y=1 - py / H, xref="paper", yref="paper", text=text, showarrow=False,
        xanchor=xanchor, yanchor="middle", align="center" if xanchor == "center" else "left",
        font=dict(family=family, size=size, color=color), borderpad=0, borderwidth=0,
    )


text_at(16, 32, "<b>Share of electricity production from oil, 2024</b>", 26.8, "#3d3d3d", family="Liberation Serif")
text_at(16, 61, "Measured as a percentage of total electricity produced in the country or region.", 15, "#5b5b5b")
text_at(210, 527, "No data", 13, "#444444", xanchor="center")
text_at(16, 577, "<b>Data source:</b> Ember (2025); Energy Institute - Statistical Review of World Energy (2025)", 13, "#858585")
text_at(832, 577, "OurWorldinData.org/energy | CC BY", 13, "#858585", xanchor="right")

# logo
fig.add_shape(type="rect", xref="paper", yref="paper", x0=769 / W, x1=834 / W, y0=1 - 52 / H, y1=1 - 16 / H,
              fillcolor="#002147", line=dict(width=0))
fig.add_shape(type="rect", xref="paper", yref="paper", x0=769 / W, x1=834 / W, y0=1 - 52 / H, y1=1 - 49.5 / H,
              fillcolor="#ce261e", line=dict(width=0))
text_at(801.5, 32.5, "<b>Our World<br>in Data</b>", 11.5, "white", xanchor="center")

# the page body has a default 8px margin that would push the fixed-size figure
fig.write_html("out.html", config={"displayModeBar": False}, post_script="document.body.style.margin = '0';")
